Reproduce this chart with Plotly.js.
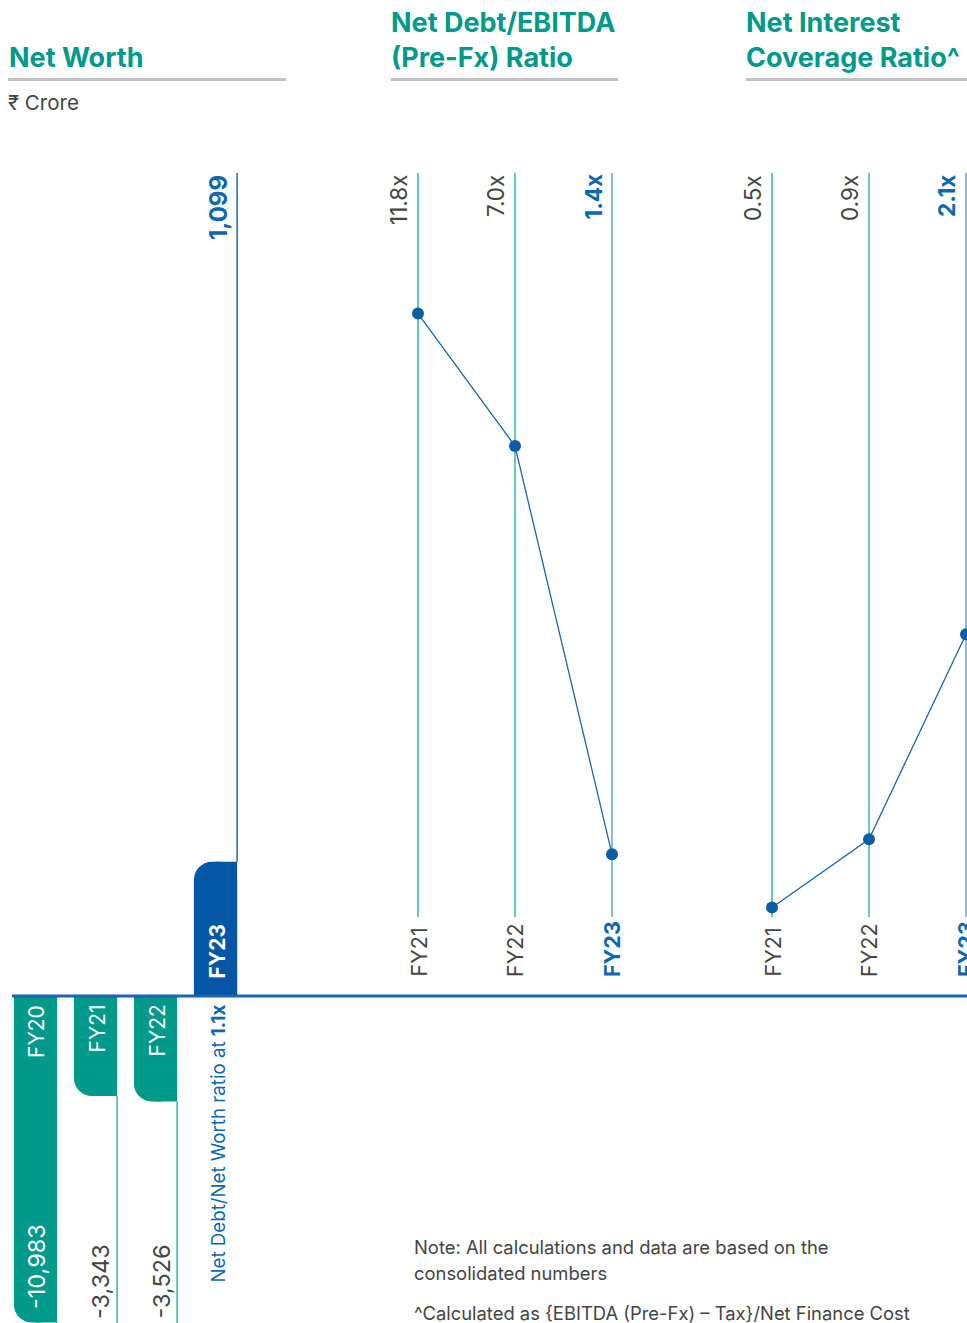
<!DOCTYPE html>
<html><head><meta charset="utf-8">
<script src="https://cdn.plot.ly/plotly-3.0.1.min.js"></script>
<style>html,body{margin:0;padding:0;background:#fff}</style>
</head><body><div id="chart" style="width:967px;height:1323px"></div>
<script>
// ---------- data ----------
const nwYears = ['FY20', 'FY21', 'FY22', 'FY23'];
const nwValues = [-10983, -3343, -3526, 1099];
const nwRatioText = 'Net Debt/Net Worth ratio at ';
const nwRatioValue = '1.1x';
const ndYears = ['FY21', 'FY22', 'FY23'];
const ndValues = [11.8, 7.0, 1.4];
const icYears = ['FY21', 'FY22', 'FY23'];
const icValues = [0.5, 0.9, 2.1];
const titles = ['Net Worth', 'Net Debt/EBITDA<br>(Pre-Fx) Ratio', 'Net Interest<br>Coverage Ratio^'];
const unitText = '₹ Crore';
const noteLines = ['Note: All calculations and data are based on the', 'consolidated numbers'];
const footText = '^Calculated as {EBITDA (Pre-Fx) – Tax}/Net Finance Cost';

// ---------- style ----------
const W = 967, H = 1323;
const px = v => v / W, py = v => 1 - v / H;
const FONT = 'Inter, Roboto, "Noto Sans", sans-serif';
const TEAL = '#00998a', TEAL_LINE = '#35b4a4', BLUE_BAR = '#0556a6', BLUE = '#0b68b0', BLUE_LINE = '#1866ab', LIGHT_BLUE = '#6aa3d6', GRAY = '#444444';
const BW = 0.72;
const NEG_MIN = -11000, POS_MAX = 6700;
const fmt = v => v.toLocaleString('en-US');

const traces = [];
const annotations = [];
const shapes = [];

// ---------- Net Worth ----------
const idx = nwValues.map((v, i) => i);
const negY = nwValues.map(v => v < 0 ? v : null);
const posY = nwValues.map(v => v > 0 ? v : null);
traces.push({type: 'bar', x: idx, y: negY, width: BW, marker: {color: TEAL, cornerradius: 18}, xaxis: 'x', yaxis: 'y', hoverinfo: 'skip'});
traces.push({type: 'bar', x: idx, y: negY, width: BW / 2, offset: 0, marker: {color: TEAL}, xaxis: 'x', yaxis: 'y', hoverinfo: 'skip'});
traces.push({type: 'bar', x: idx, y: posY, width: BW, marker: {color: BLUE_BAR, cornerradius: 18}, xaxis: 'x', yaxis: 'y2', hoverinfo: 'skip'});
traces.push({type: 'bar', x: idx, y: posY, width: BW / 2, offset: 0, marker: {color: BLUE_BAR}, xaxis: 'x', yaxis: 'y2', hoverinfo: 'skip'});
const nex = [], ney = [], pex = [], pey = [];
nwValues.forEach((v, i) => {
  if (v < 0) { nex.push(i + BW / 2, i + BW / 2, null); ney.push(v, NEG_MIN, null); }
  else { pex.push(i + BW / 2, i + BW / 2, null); pey.push(v, POS_MAX, null); }
});
traces.push({type: 'scatter', mode: 'lines', x: nex, y: ney, xaxis: 'x', yaxis: 'y', line: {color: TEAL_LINE, width: 1.5}, hoverinfo: 'skip'});
traces.push({type: 'scatter', mode: 'lines', x: pex, y: pey, xaxis: 'x', yaxis: 'y2', line: {color: BLUE_LINE, width: 1.5}, hoverinfo: 'skip'});

const minV = Math.min(...nwValues);
nwValues.forEach((v, i) => {
  if (v < 0) {
    annotations.push({xref: 'x', yref: 'paper', x: i, xshift: 1, y: py(1003), yanchor: 'top', textangle: -90, showarrow: false,
      text: nwYears[i], font: {family: FONT, size: 21, color: '#ffffff'}});
    const inside = v === minV;
    annotations.push({xref: 'x', yref: 'paper', x: i, xshift: inside ? 1 : 5, y: py(inside ? 1311 : 1321), yanchor: 'bottom', textangle: -90, showarrow: false,
      text: fmt(v), font: {family: FONT, size: 23.5, color: inside ? '#ffffff' : GRAY}});
  } else {
    annotations.push({xref: 'x', yref: 'paper', x: i, xshift: 1, y: py(981), yanchor: 'bottom', textangle: -90, showarrow: false,
      text: '<b>' + nwYears[i] + '</b>', font: {family: FONT, size: 21, color: '#ffffff'}});
    annotations.push({xref: 'x', yref: 'paper', x: i, xshift: 3, y: py(173), yanchor: 'top', textangle: -90, showarrow: false,
      text: '<b>' + fmt(v) + '</b>', font: {family: FONT, size: 24, color: BLUE}});
    annotations.push({xref: 'x', yref: 'paper', x: i, xshift: 2, y: py(1003), yanchor: 'top', textangle: -90, showarrow: false,
      text: nwRatioText + '<b>' + nwRatioValue + '</b>', font: {family: FONT, size: 18.7, color: BLUE}});
  }
});

// ---------- line charts ----------
function lineChart(years, values, xa, ya) {
  const xs = values.map((v, i) => i);
  const last = values.length - 1;
  xs.forEach(i => {
    shapes.push({type: 'line', xref: xa, yref: ya + ' domain', x0: i, x1: i, y0: 0, y1: 1, layer: 'below',
      line: {color: i === last ? LIGHT_BLUE : TEAL_LINE, width: 1.5}});
    annotations.push({xref: xa, yref: 'paper', x: i, xshift: -19, y: py(173), yanchor: 'top', textangle: -90, showarrow: false,
      text: i === last ? '<b>' + values[i].toFixed(1) + 'x</b>' : values[i].toFixed(1) + 'x',
      font: {family: FONT, size: 22.5, color: i === last ? BLUE : GRAY}});
    annotations.push({xref: xa, yref: 'paper', x: i, y: py(979), yanchor: 'bottom', textangle: -90, showarrow: false,
      text: i === last ? '<b>' + years[i] + '</b>' : years[i],
      font: {family: FONT, size: 21.5, color: i === last ? BLUE : GRAY}});
  });
  traces.push({type: 'scatter', mode: 'lines+markers', x: xs, y: values, xaxis: xa, yaxis: ya,
    line: {color: BLUE_LINE, width: 1.3}, marker: {size: 12, color: '#0a5ea6'}, hoverinfo: 'skip'});
}
lineChart(ndYears, ndValues, 'x2', 'y3');
lineChart(icYears, icValues, 'x3', 'y4');

// ---------- titles & notes ----------
const titleX = [6.5, 389, 744];
const titleY = [57.5, 40, 40];
const ruleX = [[8, 286], [391, 618], [746, 967]];
titles.forEach((t, k) => {
  annotations.push({xref: 'paper', yref: 'paper', x: px(titleX[k]), y: py(titleY[k]), xanchor: 'left', yanchor: 'middle', align: 'left',
    showarrow: false, text: '<b>' + t + '</b>', font: {family: FONT, size: 27, color: TEAL}});
  shapes.push({type: 'line', xref: 'paper', yref: 'paper', x0: px(ruleX[k][0]), x1: px(ruleX[k][1]), y0: py(79.5), y1: py(79.5),
    line: {color: '#c2c2c6', width: 3}});
});
annotations.push({xref: 'paper', yref: 'paper', x: px(6), y: py(102), xanchor: 'left', yanchor: 'middle', showarrow: false,
  text: unitText, font: {family: FONT, size: 20.5, color: GRAY}});
noteLines.forEach((t, k) => {
  annotations.push({xref: 'paper', yref: 'paper', x: px(412), y: py(1247 + 26 * k), xanchor: 'left', yanchor: 'middle', align: 'left', showarrow: false,
    text: t, font: {family: FONT, size: 18.4, color: GRAY}});
});
annotations.push({xref: 'paper', yref: 'paper', x: px(412), y: py(1313), xanchor: 'left', yanchor: 'middle', align: 'left', showarrow: false,
  text: footText, font: {family: FONT, size: 18.4, color: GRAY}});

// baseline
shapes.push({type: 'line', xref: 'paper', yref: 'paper', x0: px(12), x1: 1, y0: py(996), y1: py(996), line: {color: BLUE_LINE, width: 3}});

const hidden = {visible: false, fixedrange: true};
const layout = {
  width: W, height: H, margin: {l: 0, r: 0, t: 0, b: 0}, paper_bgcolor: '#fff', plot_bgcolor: 'rgba(0,0,0,0)',
  showlegend: false, barmode: 'overlay', font: {family: FONT},
  xaxis: Object.assign({domain: [px(5.5), px(245.5)], range: [-0.5, 3.5], anchor: 'y'}, hidden),
  yaxis: Object.assign({domain: [0, py(997)], range: [NEG_MIN, 0], anchor: 'x'}, hidden),
  yaxis2: Object.assign({domain: [py(997), py(173)], range: [0, POS_MAX], anchor: 'x'}, hidden),
  xaxis2: Object.assign({domain: [px(369.5), px(660.5)], range: [-0.5, 2.5], anchor: 'y3'}, hidden),
  yaxis3: Object.assign({domain: [py(917), py(173)], type: 'log', range: [0.0385, 1.3127], anchor: 'x2'}, hidden),
  xaxis3: Object.assign({domain: [px(723.5), 1], range: [-0.5, 2.0103], anchor: 'y4'}, hidden),
  yaxis4: Object.assign({domain: [py(917), py(173)], range: [0.4448, 4.799], anchor: 'x3'}, hidden),
  annotations: annotations, shapes: shapes
};
Plotly.newPlot('chart', traces, layout, {staticPlot: true, displayModeBar: false});
</script></body></html>
